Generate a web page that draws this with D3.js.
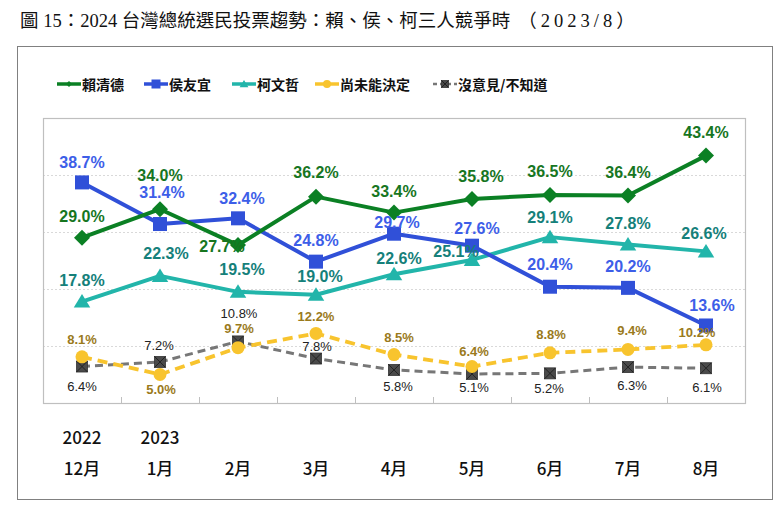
<!DOCTYPE html>
<html>
<head>
<meta charset="utf-8">
<script src="https://cdn.jsdelivr.net/npm/d3@7"></script>
<style>
  html, body { margin: 0; padding: 0; background: #fff; }
  svg { display: block; }
</style>
</head>
<body>
<svg id="chart" width="784" height="511"></svg>
<script>
// ---------------- DATA ----------------
const months = ["12月", "1月", "2月", "3月", "4月", "5月", "6月", "7月", "8月"];
const yearLabels = ["2022", "2023", "", "", "", "", "", "", ""];
const seriesNames = ["賴清德", "侯友宜", "柯文哲", "尚未能決定", "沒意見/不知道"];
const laiValues = [29.0, 34.0, 27.7, 36.2, 33.4, 35.8, 36.5, 36.4, 43.4];
const houValues = [38.7, 31.4, 32.4, 24.8, 29.7, 27.6, 20.4, 20.2, 13.6];
const koValues = [17.8, 22.3, 19.5, 19.0, 22.6, 25.1, 29.1, 27.8, 26.6];
const undecidedValues = [8.1, 5.0, 9.7, 12.2, 8.5, 6.4, 8.8, 9.4, 10.2];
const noOpinionValues = [6.4, 7.2, 10.8, 7.8, 5.8, 5.1, 5.2, 6.3, 6.1];
const yTicks = [10, 20, 30, 40];
const titleMain = "圖 15：2024 台灣總統選民投票趨勢：賴、侯、柯三人競爭時";
const titleDate = "（2023/8）";

// ---------------- LAYOUT / STYLE ----------------
const styles = [
  { line: "#0b8024", label: "#17761f", marker: "diamond", dash: null, width: 4, fs: 16, fw: "bold" },
  { line: "#3050d8", label: "#3d5ee8", marker: "square", dash: null, width: 4, fs: 16, fw: "bold" },
  { line: "#22b5aa", label: "#15807a", marker: "triangle", dash: null, width: 4, fs: 16, fw: "bold" },
  { line: "#f8c42e", label: "#9a7a1c", marker: "circle", dash: "10,6", width: 3.8, fs: 13, fw: "bold" },
  { line: "#777777", label: "#222222", marker: "xsquare", dash: "8,5", width: 3, fs: 13, fw: "normal" }
];
// label offsets [dx, dy] relative to each point (manual placement, as in the source)
const labelOffsets = [
  [[0,-21],[0,-34],[-16,1],[0,-24],[0,-21],[9,-22],[0,-23],[0,-23],[0,-23]],
  [[0,-20],[2,-32],[4,-20],[0,-21],[3,-11],[5,-17],[0,-22],[0,-21],[6,-20]],
  [[0,-21],[6,-22],[4,-22],[4,-18],[5,-16],[-16,-8],[0,-20],[0,-21],[-2,-18]],
  [[0,-17],[1,15],[1,-19],[0,-17],[5,-17],[2,-15],[1,-18],[4,-19],[-9,-12]],
  [[0,20],[-1,-16],[1,-28],[1,-12],[4,17],[2,14],[-1,15],[4,18],[1,19]]
];

const svg = d3.select("#chart");
const plot = { left: 43, right: 745, top: 118, bottom: 403 };

// outer frame
svg.append("rect").attr("x", 17.5).attr("y", 46.5).attr("width", 755).attr("height", 453)
  .attr("fill", "none").attr("stroke", "#808080").attr("stroke-width", 1);

// title
const title = svg.append("text").attr("x", 20).attr("y", 27)
  .attr("font-family", "'Liberation Serif', 'Noto Sans CJK TC', serif")
  .attr("font-size", 18.5).attr("fill", "#111");
title.append("tspan").text(titleMain);
title.append("tspan").attr("dx", 8).attr("letter-spacing", 4).text(titleDate);

const x = d3.scaleBand().domain(months).range([plot.left, plot.right]).padding(0);
const y = d3.scaleLinear().domain([0, 50]).range([plot.bottom, plot.top]);
const cx = d => x(d) + x.bandwidth() / 2;

// gridlines
svg.append("g").selectAll("line").data(yTicks).join("line")
  .attr("x1", plot.left).attr("x2", plot.right)
  .attr("y1", d => Math.round(y(d)) + 0.5).attr("y2", d => Math.round(y(d)) + 0.5)
  .attr("stroke", "#d9d9d9").attr("stroke-width", 1).attr("stroke-dasharray", "2,2");

// plot frame
svg.append("rect").attr("x", plot.left + 0.5).attr("y", plot.top + 0.5)
  .attr("width", plot.right - plot.left).attr("height", plot.bottom - plot.top)
  .attr("fill", "none").attr("stroke", "#bfbfbf").attr("stroke-width", 1.2);

// ticks (between categories, pointing up)
svg.append("g").selectAll("line").data(months.slice(1)).join("line")
  .attr("x1", d => Math.round(x(d)) + 0.5).attr("x2", d => Math.round(x(d)) + 0.5)
  .attr("y1", plot.bottom - 6).attr("y2", plot.bottom)
  .attr("stroke", "#bfbfbf").attr("stroke-width", 1);

// x labels
const xl = svg.append("g").attr("font-family", "'Noto Sans CJK TC', sans-serif")
  .attr("font-size", 17).attr("font-weight", 500).attr("fill", "#111").attr("text-anchor", "middle");
xl.selectAll("text.m").data(months).join("text").attr("class", "m")
  .attr("x", d => cx(d)).attr("y", 467).attr("dominant-baseline", "central").text(d => d);
xl.selectAll("text.yr").data(months.map((m, i) => ({ m, t: yearLabels[i] })).filter(d => d.t)).join("text")
  .attr("class", "yr").attr("x", d => cx(d.m)).attr("y", 436).attr("dominant-baseline", "central").text(d => d.t);

// markers
function drawMarker(g, type, color, s) {
  if (type === "diamond") {
    g.append("path").attr("d", `M0,${-s}L${s},0L0,${s}L${-s},0Z`).attr("fill", color);
  } else if (type === "square") {
    g.append("rect").attr("x", -s).attr("y", -s).attr("width", 2 * s).attr("height", 2 * s).attr("fill", color);
  } else if (type === "triangle") {
    g.append("path").attr("d", `M0,${-s}L${s * 1.1},${s * 0.8}L${-s * 1.1},${s * 0.8}Z`).attr("fill", color);
  } else if (type === "circle") {
    g.append("circle").attr("r", s).attr("fill", color);
  } else if (type === "xsquare") {
    g.append("rect").attr("x", -s).attr("y", -s).attr("width", 2 * s).attr("height", 2 * s)
      .attr("fill", "#4a4a4a").attr("stroke", "#333").attr("stroke-width", 0.8);
    g.append("path").attr("d", `M${-s},${-s}L${s},${s}M${s},${-s}L${-s},${s}`)
      .attr("stroke", "#222").attr("stroke-width", 1);
  }
}
const markerSize = { diamond: 8, square: 7, triangle: 7.5, circle: 6.5, xsquare: 5.5 };

const allValues = [laiValues, houValues, koValues, undecidedValues, noOpinionValues];
const drawOrder = [4, 3, 2, 1, 0];
const lineGen = d3.line().x((d, i) => cx(months[i])).y(d => y(d));

drawOrder.forEach(si => {
  const st = styles[si];
  const g = svg.append("g");
  g.append("path").datum(allValues[si]).attr("d", lineGen)
    .attr("fill", "none").attr("stroke", st.line).attr("stroke-width", st.width)
    .attr("stroke-dasharray", st.dash).attr("stroke-linejoin", "round");
  allValues[si].forEach((v, i) => {
    const mg = g.append("g").attr("transform", `translate(${cx(months[i])},${y(v)})`);
    drawMarker(mg, st.marker, st.line, markerSize[st.marker]);
  });
});

// labels
drawOrder.forEach(si => {
  const st = styles[si];
  svg.append("g").selectAll("text").data(allValues[si]).join("text")
    .attr("x", (d, i) => cx(months[i]) + labelOffsets[si][i][0])
    .attr("y", (d, i) => y(d) + labelOffsets[si][i][1])
    .attr("dominant-baseline", "central").attr("text-anchor", "middle")
    .attr("font-family", "'Liberation Sans', Arial, sans-serif")
    .attr("font-size", st.fs).attr("font-weight", st.fw).attr("fill", st.label)
    .text(d => d.toFixed(1) + "%");
});

// legend
const legendX = [57, 144, 232, 315, 433];
const legend = svg.append("g");
seriesNames.forEach((name, i) => {
  const st = styles[i];
  const lg = legend.append("g").attr("transform", `translate(${legendX[i]},84)`);
  lg.append("line").attr("x1", 0).attr("x2", 24).attr("y1", 0).attr("y2", 0)
    .attr("stroke", st.line).attr("stroke-width", i === 4 ? 2.5 : 3.5)
    .attr("stroke-dasharray", i === 4 ? "4,3" : null);
  const mg = lg.append("g").attr("transform", "translate(12,0)");
  const sizes = [3, 4.5, 4, 4, 3.5];
  drawMarker(mg, st.marker, st.line, sizes[i]);
  lg.append("text").attr("x", 25).attr("y", 0).attr("dominant-baseline", "central")
    .attr("font-family", "'Noto Sans CJK TC', sans-serif").attr("font-size", 14)
    .attr("font-weight", "bold").attr("fill", "#111").text(name);
});
</script>
</body>
</html>
